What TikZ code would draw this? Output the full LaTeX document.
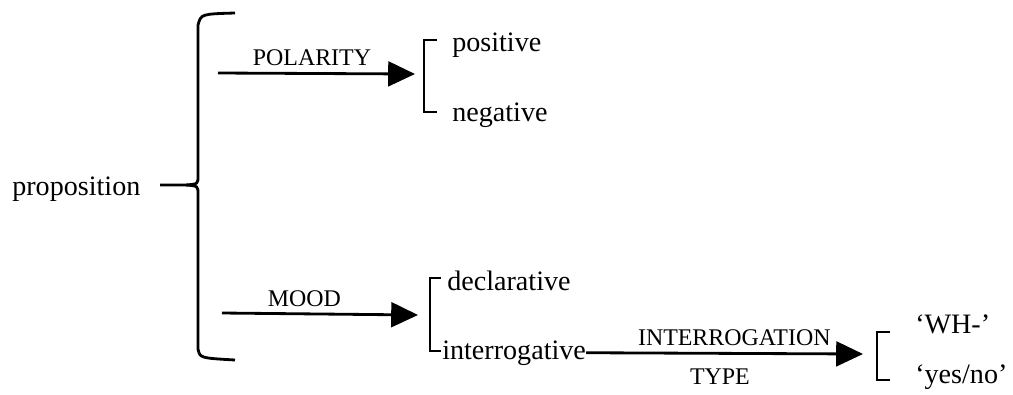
\documentclass[tikz,border=0pt]{standalone}
\usepackage{fontspec}
\setmainfont{Liberation Serif}
\usetikzlibrary{arrows.meta, positioning}

\begin{document}
\begin{tikzpicture}[
        x=0.25mm, y=-0.25mm,
        opt/.style={font=\fontsize{20}{24}\selectfont, inner sep=0pt, anchor=base west},
        lbl/.style={font=\fontsize{17}{20}\selectfont, inner sep=2pt},
        brk/.style={line width=2pt},
        arr/.style={line width=2pt, -{Triangle[length=6.7mm, width=6.2mm]}}
    ]
        \useasboundingbox (0,0) rectangle (1013,394);

        % entry and the big brace
        \node[opt] (prop) at (12,195) {proposition};
        \draw[brk] (235,13) .. controls (201,14) .. (198,25) -- (198,176) .. controls (198,184) .. (186,185) -- (160,185);
        \draw[brk] (186,185) .. controls (198,186) .. (198,194) -- (198,349) .. controls (200,358) .. (235,360);

        % polarity
        \node[opt] (pos) at (452,51) {positive};
        \node[opt] (neg) at (452,121) {negative};
        \draw[brk] (437,40) -- (424,40) -- (424,112) -- (437,112);

        % mood
        \node[opt] (decl) at (447,290) {declarative};
        \node[opt] (interr) at (442,359) {interrogative};
        \draw[brk] (441,278) -- (430,278) -- (430,351) -- (441,351);

        % interrogation type
        \node[opt] (wh) at (915,333) {‘WH-’};
        \node[opt] (yesno) at (915,383) {‘yes/no’};
        \draw[brk] (890,332) -- (877,332) -- (877,380) -- (890,380);

        \coordinate (polstart) at (218,73);
        \coordinate (poltip) at (415,74);
        \coordinate (moodstart) at (222,313);
        \coordinate (moodtip) at (418,315);
        \coordinate (typetip) at (863,354);

        \draw[arr] (polstart) -- node[lbl, above=2.3pt, pos=0.477] {POLARITY} (poltip);
        \draw[arr] (moodstart) -- node[lbl, above=2.3pt, pos=0.42] {MOOD} (moodtip);
        \draw[arr] (interr.east) -- node[lbl, above=2.3pt, pos=0.535] {INTERROGATION}
            node[lbl, below=8pt, pos=0.483] {TYPE} (typetip);
    \end{tikzpicture}
\end{document}
